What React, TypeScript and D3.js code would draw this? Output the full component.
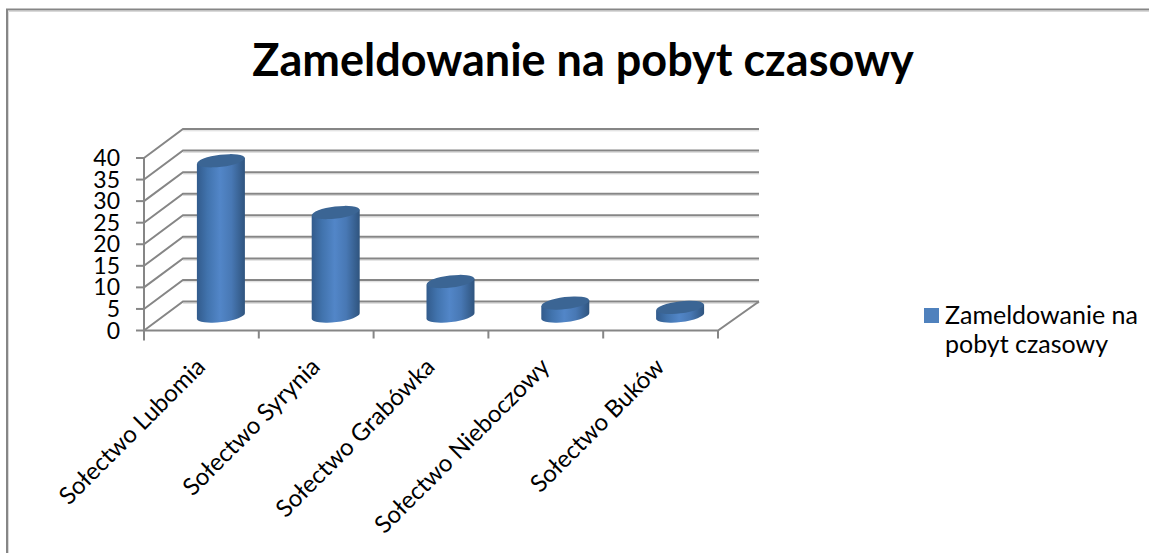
import React from "react";
import * as d3 from "d3";

const categories = ["Sołectwo Lubomia", "Sołectwo Syrynia", "Sołectwo Grabówka", "Sołectwo Nieboczowy", "Sołectwo Buków"];
const values = [36, 24, 8, 3, 2];
const yTicks = [0, 5, 10, 15, 20, 25, 30, 35, 40];
const titleText = "Zameldowanie na pobyt czasowy";
const legendLines = ["Zameldowanie na", "pobyt czasowy"];

const W = 1149, H = 553;
const FONT = "Lato, Carlito, sans-serif";
const GRID = "#868686";
const HALO = "#d9d9d9";
const DX = 39, DY = -29;

const x = d3.scaleBand<string>().domain(categories).range([144, 718]).paddingInner(0).paddingOuter(0);
const y = d3.scaleLinear().domain([0, 40]).range([330.5, 158]);

const RX = 24, RY = 6, ROT = -7;
const SLOPE = RX * Math.tan((ROT * Math.PI) / 180);

function Cylinder({ name, value }: { name: string; value: number }) {
  const cx = (x(name) as number) + x.bandwidth() / 2 + DX / 2;
  const base = y(0) + DY / 2;
  const top = y(value) + DY / 2;
  const lx = cx - RX, rx = cx + RX;
  const body = `M${lx},${top - SLOPE} L${lx},${base - SLOPE} A${RX},${RY} ${ROT} 0 0 ${rx},${base + SLOPE} L${rx},${top + SLOPE} Z`;
  return (
    <g>
      <path d={body} fill="url(#cyl)" />
      <ellipse cx={cx} cy={top} rx={RX} ry={RY} fill="#3b6594" transform={`rotate(${ROT} ${cx} ${top})`} />
    </g>
  );
}

export default function App() {
  const tickXs = [...categories.map((c) => x(c) as number), 718];
  const x0 = 144, x1 = 718;
  return (
    <svg width={W} height={H} viewBox={`0 0 ${W} ${H}`} style={{ position: "absolute", left: 0, top: 0, background: "#fff" }}>
      <defs>
        <linearGradient id="cyl" x1="0" x2="1" y1="0" y2="0">
          <stop offset="0" stopColor="#325b8c" />
          <stop offset="0.22" stopColor="#4173ad" />
          <stop offset="0.48" stopColor="#5286c8" />
          <stop offset="0.72" stopColor="#4878b4" />
          <stop offset="1" stopColor="#2f547e" />
        </linearGradient>
      </defs>
      <path d={`M8.5,${H} L8.5,11.5 L${W},11.5`} fill="none" stroke={HALO} strokeWidth={1} />
      <path d={`M7,${H} L7,9.5 L${W},9.5`} fill="none" stroke={GRID} strokeWidth={2} />
      <text x={583} y={76} textAnchor="middle" fontFamily={FONT} fontWeight={700} fontSize={45} fill="#000">{titleText}</text>

      {yTicks.map((t) => (
        <g key={t} fill="none">
          <path d={`M${x0 + DX},${y(t) + DY + 1.8} L${x1 + DX + 2},${y(t) + DY + 1.8}`} stroke={HALO} strokeWidth={1} />
          <path d={`M${x0},${y(t)} L${x0 + DX},${y(t) + DY} L${x1 + DX + 2},${y(t) + DY}`} stroke={GRID} strokeWidth={2} />
          <path d={`M${x0 - 8},${y(t)} L${x0},${y(t)}`} stroke={GRID} strokeWidth={2} />
        </g>
      ))}
      <path d={`M${x0},${y(40)} L${x0},${y(0) + 10}`} stroke={GRID} strokeWidth={2} fill="none" />
      <path d={`M${x0},${y(0)} L${x1},${y(0)} L${x1 + DX + 2},${y(0) + DY}`} stroke={GRID} strokeWidth={2} fill="none" />
      {tickXs.map((t) => (
        <path key={t} d={`M${t},${y(0)} L${t},${y(0) + 8}`} stroke={GRID} strokeWidth={2} fill="none" />
      ))}

      {categories.map((c, i) => (
        <Cylinder key={c} name={c} value={values[i]} />
      ))}

      {yTicks.map((t) => (
        <text key={t} x={120} y={y(t) + 8} textAnchor="end" fontFamily={FONT} fontSize={23} fill="#000">{t}</text>
      ))}

      {categories.map((c) => {
        const tx = (x(c) as number) + x.bandwidth() / 2 + 1;
        return (
          <text key={c} transform={`translate(${tx},${364}) rotate(-45)`} textAnchor="end" dominantBaseline="middle" fontFamily={FONT} fontSize={24} fill="#000">{c}</text>
        );
      })}

      <rect x={924} y={308} width={15} height={15} fill="#4f81bd" />
      {legendLines.map((l, i) => (
        <text key={l} x={945} y={324 + i * 29} fontFamily={FONT} fontSize={25} fill="#000">{l}</text>
      ))}
    </svg>
  );
}
